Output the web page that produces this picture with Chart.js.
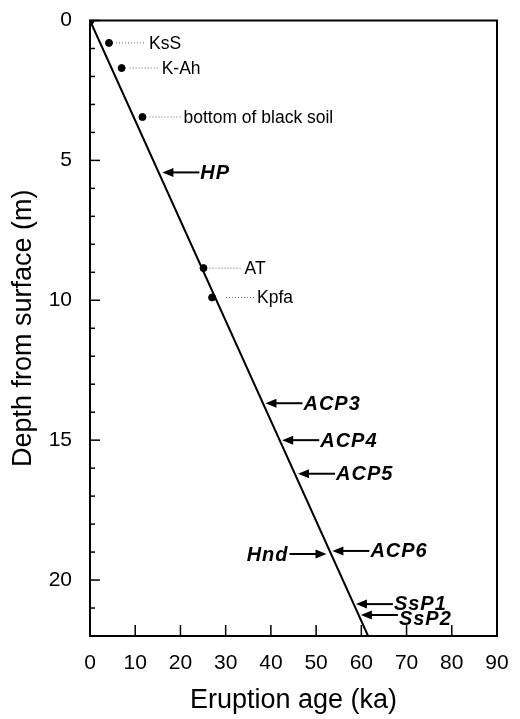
<!DOCTYPE html>
<html>
<head>
<meta charset="utf-8">
<script src="https://cdn.jsdelivr.net/npm/chart.js@4/dist/chart.umd.min.js"></script>
<style>
  html, body { margin: 0; padding: 0; background: #fff; }
  #wrap { width: 520px; height: 719px; }
</style>
</head>
<body>
<div id="wrap"><canvas id="depth-chart"></canvas></div>
<script>
// age-depth trend line
const trendAge = [0, 61.5];
const trendDepth = [0, 22];

// tephra layers marked with a dot
const tephraNames = ['KsS', 'K-Ah', 'bottom of black soil', 'AT', 'Kpfa'];
const tephraAge = [4.2, 7.0, 11.6, 25.1, 27.0];
const tephraDepth = [0.8, 1.7, 3.45, 8.85, 9.9];

// tephra layers marked with an arrow
const markerNames = ['HP', 'ACP3', 'ACP4', 'ACP5', 'ACP6', 'Hnd', 'SsP1', 'SsP2'];
const markerAge = [16.0, 38.8, 42.5, 46.0, 53.6, 52.3, 58.8, 59.9];
const markerDepth = [5.43, 13.68, 15.0, 16.2, 18.96, 19.07, 20.86, 21.25];

const xTicks = [0, 10, 20, 30, 40, 50, 60, 70, 80, 90];
const yLabelTicks = [0, 5, 10, 15, 20];

// label styling (pixels), kept apart from the data
const FONT = "'Liberation Sans', Arial, sans-serif";
const dotTextGap = [40, 40, 41, 41, 45];
const dotLeadStart = [7, 8, 7, 6, 14];
const markerLeft = ['Hnd'];
const markerTextShift = { SsP1: -1, SsP2: 3 };
const ARROW_LEN = 37;

const decorPlugin = {
    id: 'decor',
    afterDatasetsDraw(chart) {
        const ctx = chart.ctx;
        const area = chart.chartArea;
        const xs = chart.scales.x;
        const ys = chart.scales.y;
        ctx.save();

        // frame
        ctx.strokeStyle = '#000';
        ctx.lineWidth = 2;
        ctx.strokeRect(area.left, area.top, area.right - area.left, area.bottom - area.top);

        // inward ticks
        ctx.lineWidth = 1.5;
        xs.ticks.forEach(t => {
            const px = xs.getPixelForValue(t.value);
            ctx.beginPath();
            ctx.moveTo(px, area.bottom);
            ctx.lineTo(px, area.bottom - 11);
            ctx.stroke();
        });
        ys.ticks.forEach(t => {
            const py = ys.getPixelForValue(t.value);
            const len = yLabelTicks.includes(t.value) ? 10 : 5;
            ctx.beginPath();
            ctx.moveTo(area.left, py);
            ctx.lineTo(area.left + len, py);
            ctx.stroke();
        });

        // dot labels with dotted leaders
        ctx.font = '17.5px ' + FONT;
        ctx.textBaseline = 'middle';
        ctx.textAlign = 'left';
        tephraNames.forEach((name, i) => {
            const px = xs.getPixelForValue(tephraAge[i]);
            const py = ys.getPixelForValue(tephraDepth[i]);
            ctx.strokeStyle = '#666';
            ctx.lineWidth = 1;
            ctx.setLineDash([1, 2]);
            ctx.beginPath();
            ctx.moveTo(px + dotLeadStart[i], py);
            ctx.lineTo(px + dotTextGap[i] - 3, py);
            ctx.stroke();
            ctx.setLineDash([]);
            ctx.fillStyle = '#000';
            ctx.fillText(name, px + dotTextGap[i], py + 1);
        });

        // arrow labels
        ctx.font = 'italic bold 20px ' + FONT;
        ctx.letterSpacing = '1px';
        ctx.strokeStyle = '#000';
        ctx.fillStyle = '#000';
        markerNames.forEach((name, i) => {
            const px = xs.getPixelForValue(markerAge[i]);
            const py = ys.getPixelForValue(markerDepth[i]);
            const dir = markerLeft.includes(name) ? -1 : 1;
            ctx.lineWidth = 2;
            ctx.beginPath();
            ctx.moveTo(px + dir * 8, py);
            ctx.lineTo(px + dir * ARROW_LEN, py);
            ctx.stroke();
            ctx.beginPath();
            ctx.moveTo(px, py);
            ctx.lineTo(px + dir * 11, py - 4.5);
            ctx.lineTo(px + dir * 11, py + 4.5);
            ctx.closePath();
            ctx.fill();
            ctx.textAlign = dir > 0 ? 'left' : 'right';
            ctx.fillText(name, px + dir * (ARROW_LEN + 1), py + 1 + (markerTextShift[name] || 0));
        });
        ctx.restore();
    }
};

new Chart(document.querySelector('#depth-chart').getContext('2d'), {
    type: 'scatter',
    data: {
        datasets: [
            {
                label: 'trend',
                data: trendAge.map((a, i) => ({ x: a, y: trendDepth[i] })),
                showLine: true,
                borderColor: '#000',
                backgroundColor: '#000',
                borderWidth: 2,
                pointRadius: [3.5, 0],
                pointHoverRadius: 0
            },
            {
                label: 'tephra',
                data: tephraAge.map((a, i) => ({ x: a, y: tephraDepth[i] })),
                backgroundColor: '#000',
                borderColor: '#000',
                pointRadius: 3.5
            }
        ]
    },
    options: {
        responsive: true,
        maintainAspectRatio: false,
        animation: false,
        layout: { padding: { left: 7, right: 23, top: 10, bottom: 2 } },
        plugins: { legend: { display: false }, tooltip: { enabled: false } },
        scales: {
            x: {
                type: 'linear',
                min: 0,
                max: 90,
                grid: { display: false },
                border: { display: false },
                ticks: {
                    stepSize: 10,
                    color: '#000',
                    padding: 7,
                    font: { family: FONT, size: 21 },
                    callback: v => xTicks.includes(v) ? v : ''
                },
                title: {
                    display: true,
                    text: 'Eruption age (ka)',
                    color: '#000',
                    font: { family: FONT, size: 27 },
                    padding: { top: 0, bottom: 0 }
                },
                afterFit(scale) { scale.height = 81; }
            },
            y: {
                type: 'linear',
                min: 0,
                max: 22,
                reverse: true,
                grid: { display: false },
                border: { display: false },
                ticks: {
                    stepSize: 1,
                    autoSkip: false,
                    color: '#000',
                    padding: 10,
                    font: { family: FONT, size: 21, lineHeight: 1 },
                    callback: v => yLabelTicks.includes(v) ? v : ''
                },
                title: {
                    display: true,
                    text: 'Depth from surface (m)',
                    color: '#000',
                    font: { family: FONT, size: 27 },
                    padding: { top: 0, bottom: 0 }
                },
                afterFit(scale) { scale.width = 83; }
            }
        }
    },
    plugins: [decorPlugin]
});
</script>
</body>
</html>
